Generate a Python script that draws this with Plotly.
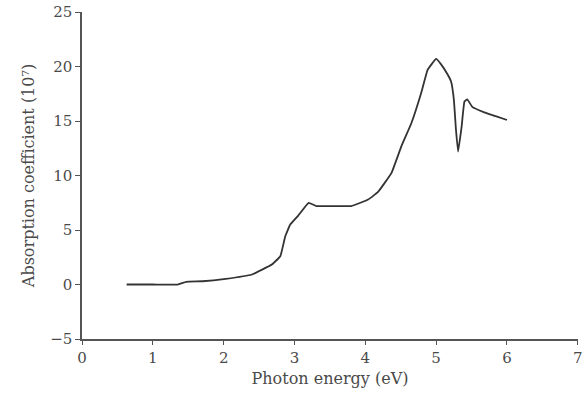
import plotly.graph_objects as go

energy_ev = [0.63, 1.0, 1.35, 1.47, 1.7, 2.03, 2.4, 2.68, 2.8, 2.87, 2.94, 3.05, 3.2, 3.31, 3.5, 3.8, 4.04, 4.18,
             4.37, 4.51, 4.65, 4.79, 4.88, 5.0, 5.07, 5.16, 5.21, 5.25, 5.28, 5.31, 5.36, 5.40, 5.44, 5.51, 5.68, 5.84, 6.0]
absorption = [0.0, 0.0, 0.0, 0.25, 0.3, 0.52, 0.92, 1.83, 2.6, 4.43, 5.5, 6.3, 7.5, 7.2, 7.2, 7.2, 7.8, 8.5,
              10.25, 12.7, 14.8, 17.6, 19.7, 20.7, 20.2, 19.3, 18.65, 17.0, 14.2, 12.2, 14.5, 16.8, 17.0, 16.3, 15.8, 15.45, 15.1]

x_ticks = [0, 1, 2, 3, 4, 5, 6, 7]
y_ticks = [-5, 0, 5, 10, 15, 20, 25]

fig = go.Figure(go.Scatter(x=energy_ev, y=absorption, mode="lines", cliponaxis=False,
                           line=dict(color="#333333", width=1.8, shape="spline", smoothing=0.3)))

font = dict(family="DejaVu Serif, Liberation Serif, serif", size=15, color="#4a4a4a")
fig.update_layout(
    width=584, height=400,
    margin=dict(l=82, r=6, t=12, b=61),
    paper_bgcolor="white", plot_bgcolor="white",
    font=font, showlegend=False,
    xaxis=dict(range=[0, 7.003], tickvals=x_ticks, showline=True, linecolor="#555555", linewidth=1.5,
               ticks="outside", ticklen=4, tickcolor="#555555", showgrid=False, zeroline=False,
               automargin=False, ticklabeloverflow="allow",
               title=dict(text="Photon energy (eV)", standoff=7, font=dict(size=16))),
    yaxis=dict(range=[-5, 25.01], tickvals=y_ticks, showline=True, linecolor="#555555", linewidth=1.5,
               ticks="outside", ticklen=5, tickcolor="#555555", showgrid=False, zeroline=False,
               automargin=False, ticklabeloverflow="allow",
               title=dict(text="Absorption coefficient (10⁷)", standoff=12, font=dict(size=16))),
)

fig.write_html("out.html", config={"displayModeBar": False},
               post_script="document.body.style.margin='0';document.body.style.overflow='hidden';")
